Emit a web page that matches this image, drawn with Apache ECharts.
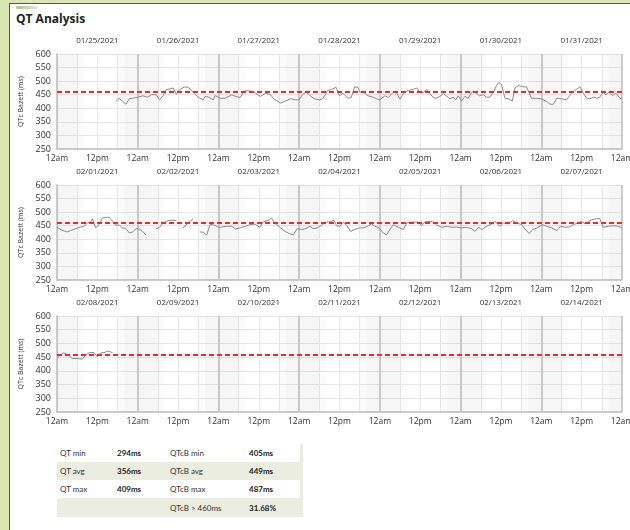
<!DOCTYPE html>
<html>
<head>
<meta charset="utf-8">
<title>QT Analysis</title>
<script src="https://cdn.jsdelivr.net/npm/echarts@6/dist/echarts.min.js"></script>
<style>
  body { margin: 0; width: 630px; height: 530px; overflow: hidden; background: #d9e6b1; position: relative; font-family: "Open Sans", sans-serif; }
  #panel { position: absolute; left: 9px; top: 3px; width: 640px; height: 540px; background: #fff; border: 1px solid #555; box-sizing: border-box; }
  #bar { position: absolute; left: 16px; top: 6px; width: 22px; height: 3px; background: linear-gradient(to right, #a9c77c, #e3ecd3); border-radius: 2px; }
  #title { position: absolute; left: 16px; top: 10px; font-size: 12px; font-weight: bold; color: #222; }
  #chart { position: absolute; left: 0; top: 0; width: 660px; height: 440px; }
  #stats { position: absolute; left: 57px; top: 444px; width: 246px; border-collapse: collapse; font-family: Lato, sans-serif; font-size: 8px; color: #333; background: #eaeddf; border-right: 3px solid #eaeddf; }
  #stats td { height: 18px; padding: 0 0 0 3px; }
  #stats tr:nth-child(odd) td { background: #fff; }
  #stats tr:nth-child(4) td { background: #eaeddf; height: 19px; }
  #stats td.v { font-weight: bold; color: #222; }
</style>
</head>
<body>
<div id="panel"></div>
<div id="bar"></div>
<div id="title">QT Analysis</div>
<div id="chart"></div>
<table id="stats">
  <tr><td style="width:54px">QT min</td><td class="v" style="width:50px">294ms</td><td style="width:76px">QTcB min</td><td class="v">405ms</td></tr>
  <tr><td>QT avg</td><td class="v">356ms</td><td>QTcB avg</td><td class="v">449ms</td></tr>
  <tr><td>QT max</td><td class="v">409ms</td><td>QTcB max</td><td class="v">487ms</td></tr>
  <tr><td></td><td></td><td>QTcB &gt; 460ms</td><td class="v">31.68%</td></tr>
</table>
<script>
// dates shown above each week
var week1Dates = ['01/25/2021', '01/26/2021', '01/27/2021', '01/28/2021', '01/29/2021', '01/30/2021', '01/31/2021'];
var week2Dates = ['02/01/2021', '02/02/2021', '02/03/2021', '02/04/2021', '02/05/2021', '02/06/2021', '02/07/2021'];
var week3Dates = ['02/08/2021', '02/09/2021', '02/10/2021', '02/11/2021', '02/12/2021', '02/13/2021', '02/14/2021'];

// hours since the start of each week, and QTc Bazett (ms); null = gap in recording
var week1Hours = [17.5, 18.5, 19, 20.5, 21.5, 22.5, 24, 25.5, 27, 28, 29.5, 30.5, 31.5, 32.5, 33.5, 34.5, 35.5, 36.5, 38, 39, 40, 42, 43.5, 44, 45, 46.5, 47, 48.5, 50, 50.5, 52, 53, 54.5,
  55.5, 56.5, 58, 59, 60.5, 62, 63.5, 64.5, 65, 66.5, 68, 69.5, 71, 72, 73, 74, 75.5, 76.5, 78, 79, 80.5, 81.5, 83, 84, 85, 86.5, 87.5, 88.5, 89.5, 90, 91, 92.5, 94, 95, 96, 97.5, 98.5, 100, 101, 102, 103, 104.5, 106, 107, 108, 109, 110, 111.5,
  112.4, 113.4, 114.9, 115.9, 116.8, 117.8, 118.6, 119.3, 120.3, 121.3, 122.3, 123.3, 124.3, 125.6, 126.8, 127.7, 128.7, 129.9, 130.7, 131.4, 132.2, 133.2, 134.2, 135.4, 136.2, 137.2, 138.6, 139.6, 141.1, 142.6, 143.9, 145.6, 146.6, 147.6, 148.6, 150, 151.5, 153, 154, 155.5, 156.5, 157.5, 158.5, 159.5, 160.5, 161.4, 162.4, 163.2, 164.2, 165.2, 166.2, 167.4, 168];
var week1QTc = [425, 437, 437, 415, 435, 437, 441, 446, 441, 450, 450, 431, 446, 469, 471, 475, 452, 469, 479, 477, 466, 441, 431, 444, 441, 431, 447, 437, 437, 435, 450, 444, 440,
  462, 465, 462, 456, 444, 456, 450, 434, 437, 419, 427, 435, 431, 431, 450, 460, 444, 435, 431, 435, 465, 469, 477, 446, 456, 437, 440, 479, 477, 460, 460, 446, 441, 435, 431, 446, 440, 459, 456, 434, 456, 466, 469, 475, 456, 459, 469, 444,
  437, 440, 454, 444, 435, 441, 431, 446, 427, 444, 437, 460, 460, 446, 450, 441, 441, 462, 484, 495, 487, 437, 435, 427, 475, 484, 479, 479, 437, 437, 435, 425, 415, 415, 437, 435, 431, 456, 466, 479, 456, 437, 435, 441, 437, 441, 460, 450, 460, 447, 456, 437, 435];

var week2Hours = [0, 1.5, 3, 4, 5.5, 7, 8, 9, 10, 10.5, 11.5, 12.5, 13.5, 14.5, 15.5, 16.5, 17.5, 18.5, 19.5, 20.5, 21.5, 22.5, 23.5, 24.5, 25.5, 26.5, 28,
  29.5, 30.5, 31.5, 33, 34, 35.5, 36.5, 37.5, 39, 40.5, 41.5, 42.5, 43.5, 44.5, 45.5, 46.5, 48, 49, 50.5, 52, 53, 54.5, 56,
  57.4, 58.9, 60.3, 61.3, 62.8, 63.8, 64.8, 66.3, 67.8, 69.1, 70.3, 71.4, 72.7, 74, 75.2, 76.2, 77.4, 78.7, 79.7, 81.2, 82.4, 83.1, 84.1, 85.1, 86.1, 87.3, 88.6, 89.9, 91.1, 92.3, 93.5, 94.5, 95.8, 97, 98, 99, 100, 101.5, 103, 104, 105, 106.4, 107.4, 108.4, 109.4, 110.9,
  111.9, 112.9, 114.4, 115.9, 117.3, 118.8, 120.3, 121.8, 123.3, 124.3, 125.3, 126.3, 127.7, 129.2, 130.2, 131.7, 132.7, 134.2, 135.5, 136.7, 138.2, 139.1, 140.4, 141.4, 142.8, 144.4, 145.6, 147.1, 148.6, 149.8, 151, 152.3, 153.5, 155, 156, 157, 158, 159, 160.5, 161.4, 162.4, 163.9, 165.4, 166.9, 168];
var week2QTc = [444, 433, 427, 432, 439, 445, 447, 460, 464, 476, 442, 454, 478, 481, 481, 466, 452, 452, 442, 440, 423, 427, 439, 438, 429, 415, null,
  439, 444, 460, 469, 470, 470, null, 442, 460, 476, null, 427, 426, 415, 454, 454, 444, 445, 448, 448, 438, 442, 448,
  454, 456, 444, 464, 470, 478, 460, 444, 429, 421, 417, 439, 436, 439, 448, 439, 442, 452, 463, 464, 470, 450, 448, 463, 452, 429, 436, 442, 442, 448, 456, 448, 442, 423, 417, 436, 454, 444, 436, 460, 463, 463, 464, 450, 464, 466,
  464, 452, 444, 448, 444, 445, 442, 444, 439, 429, 444, 436, 448, 456, 466, 448, 460, 457, 469, 460, 454, 439, 421, 436, 442, 454, 448, 442, 432, 448, 444, 445, 454, 460, 466, 457, 464, 472, 476, 476, 444, 448, 450, 448, 442];

var week3Hours = [0, 1, 2, 3.5, 4.5, 6, 7.5, 8.5, 9.5, 11, 12, 13, 14, 15, 16.5];
var week3QTc = [445, 457, 466, 457, 445, 445, 443, 457, 466, 467, 451, 466, 466, 472, 467];

var limitQTc = 460;
var yTicks = { min: 250, max: 600, step: 50 };
var hoursPerWeek = 168;

var weeks = [
  { dates: week1Dates, hours: week1Hours, values: week1QTc, top: 54, height: 95 },
  { dates: week2Dates, hours: week2Hours, values: week2QTc, top: 185, height: 95 },
  { dates: week3Dates, hours: week3Hours, values: week3QTc, top: 316, height: 96 }
];

// night / dawn / dusk shading for each day
var shading = function () {
  var areas = [];
  for (var d = 0; d < 7; d++) {
    var s = d * 24;
    areas.push([{ xAxis: s, itemStyle: { color: 'rgba(0,0,0,0.035)' } }, { xAxis: s + 6 }]);
    areas.push([{ xAxis: s + 6, itemStyle: { color: 'rgba(0,0,0,0.015)' } }, { xAxis: s + 8 }]);
    areas.push([{ xAxis: s + 18, itemStyle: { color: 'rgba(0,0,0,0.015)' } }, { xAxis: s + 20 }]);
    areas.push([{ xAxis: s + 20, itemStyle: { color: 'rgba(0,0,0,0.035)' } }, { xAxis: s + 24 }]);
  }
  return areas;
};

var grids = [], xAxes = [], yAxes = [], series = [];
weeks.forEach(function (w, i) {
  grids.push({ left: 57, right: 38, top: w.top, height: w.height });
  // bottom: hours of the week
  xAxes.push({
    type: 'value', gridIndex: i, min: 0, max: hoursPerWeek, interval: 6,
    axisLine: { show: true, lineStyle: { color: '#cccccc', width: 2 } },
    axisTick: { show: false },
    splitLine: { show: true, lineStyle: { color: '#e8e8e8', width: 1 } },
    axisLabel: {
      fontSize: 8.5, color: '#333', margin: 5, fontFamily: 'Open Sans',
      showMinLabel: true, showMaxLabel: true,
      formatter: function (v) {
        if (v % 24 === 0) return '12am';
        if (v % 24 === 12) return '12pm';
        return '';
      }
    }
  });
  // top: day names, day boundary lines
  xAxes.push({
    type: 'category', gridIndex: i, position: 'top', data: w.dates, boundaryGap: true,
    axisLine: { show: false }, axisTick: { show: false },
    splitLine: { show: true, interval: 0, lineStyle: { color: '#d0d0d0', width: 2 } },
    axisLabel: { interval: 0, fontSize: 8, color: '#333', margin: 9, fontFamily: 'Open Sans' }
  });
  yAxes.push({
    type: 'value', gridIndex: i, min: yTicks.min, max: yTicks.max, interval: yTicks.step,
    name: 'QTc Bazett (ms)', nameLocation: 'middle', nameGap: 31,
    nameTextStyle: { fontSize: 7, color: '#333', fontFamily: 'Open Sans' },
    axisLine: { show: true, lineStyle: { color: '#cccccc', width: 2 } },
    axisTick: { show: false },
    splitLine: { show: true, lineStyle: { color: '#e8e8e8', width: 1 } },
    axisLabel: { fontSize: 9, color: '#333', margin: 6, fontFamily: 'Open Sans' }
  });
  var data = [];
  for (var k = 0; k < w.hours.length; k++) {
    data.push([w.hours[k], w.values[k] === null ? '-' : w.values[k]]);
  }
  series.push({
    type: 'line', xAxisIndex: i * 2, yAxisIndex: i, data: data,
    showSymbol: false, silent: true, connectNulls: false,
    lineStyle: { color: '#8a8a8a', width: 1 },
    markArea: { silent: true, data: shading() },
    markLine: {
      silent: true, symbol: 'none', label: { show: false },
      lineStyle: { color: '#ff2222', type: [5, 3], width: 2 },
      data: [{ yAxis: limitQTc }]
    }
  });
});

var chart = echarts.init(document.getElementById('chart'));
chart.setOption({
  animation: false,
  grid: grids,
  xAxis: xAxes,
  yAxis: yAxes,
  series: series
});
</script>
</body>
</html>
